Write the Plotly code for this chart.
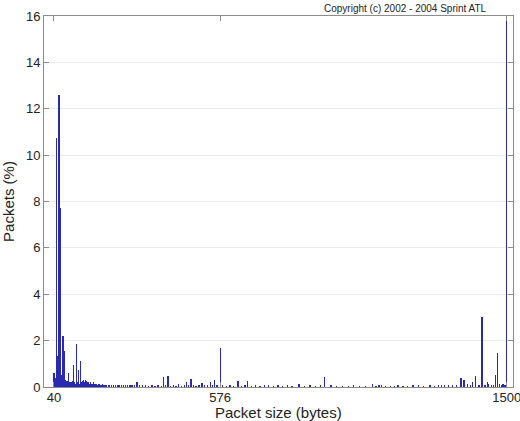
import plotly.graph_objects as go

packet_sizes = [
    40, 42, 44, 46, 48, 50, 51, 53, 54, 56, 58, 60, 62, 64, 66, 69, 72, 74, 76, 78,
    80, 82, 85, 88, 90, 92, 95, 98, 100, 104, 107, 110, 112, 115, 117, 120, 123, 126, 129, 132,
    135, 138, 141, 144, 147, 150, 153, 156, 159, 162, 165, 168, 171, 174, 177, 180, 184, 188, 192, 196,
    200, 205, 210, 215, 220, 226, 232, 238, 244, 250, 257, 264, 271, 278, 285, 292, 300, 308, 316, 326,
    336, 346, 356, 366, 376, 386, 394, 400, 408, 416, 426, 434, 442, 452, 460, 467, 474, 482, 490, 498,
    508, 517, 526, 536, 544, 552, 557, 566, 576, 584, 596, 608, 620, 633, 645, 656, 664, 676, 690, 704,
    718, 732, 748, 762, 776, 792, 808, 830, 848, 866, 884, 900, 912, 933, 950, 970, 990, 1005, 1025, 1045,
    1066, 1078, 1088, 1097, 1110, 1125, 1138, 1149, 1165, 1180, 1198, 1216, 1232, 1252, 1266, 1280, 1290, 1300, 1312, 1326,
    1338, 1352, 1362, 1374, 1382, 1389, 1400, 1410, 1420, 1430, 1437, 1442, 1450, 1457, 1463, 1470, 1477, 1482, 1488, 1494,
    1500,
]

packets_pct = [
    0.6, 0.3, 0.35, 0.4, 10.75, 0.45, 1.35, 0.5, 0.4, 12.6, 0.45, 7.7, 2.4, 0.5, 0.35, 2.2, 1.55, 0.3, 0.25, 0.3,
    0.2, 0.25, 0.2, 0.6, 0.2, 0.15, 0.2, 0.15, 0.25, 0.95, 0.2, 0.15, 1.85, 0.2, 0.15, 0.75, 0.15, 1.1, 0.2, 0.25,
    0.3, 0.2, 0.3, 0.25, 0.15, 0.2, 0.15, 0.1, 0.2, 0.15, 0.12, 0.2, 0.15, 0.12, 0.15, 0.1, 0.15, 0.12, 0.1, 0.12,
    0.08, 0.1, 0.08, 0.1, 0.08, 0.07, 0.08, 0.06, 0.07, 0.06, 0.06, 0.05, 0.06, 0.05, 0.05, 0.05, 0.06, 0.2, 0.05, 0.05,
    0.05, 0.04, 0.05, 0.04, 0.05, 0.04, 0.42, 0.05, 0.47, 0.04, 0.05, 0.04, 0.15, 0.04, 0.05, 0.2, 0.05, 0.33, 0.05, 0.04,
    0.05, 0.19, 0.05, 0.05, 0.23, 0.08, 0.3, 0.05, 1.68, 0.05, 0.04, 0.05, 0.04, 0.26, 0.04, 0.05, 0.27, 0.04, 0.05, 0.04,
    0.05, 0.08, 0.04, 0.05, 0.04, 0.08, 0.04, 0.15, 0.04, 0.05, 0.04, 0.05, 0.42, 0.05, 0.04, 0.04, 0.04, 0.06, 0.04, 0.04,
    0.12, 0.04, 0.1, 0.1, 0.04, 0.04, 0.04, 0.1, 0.04, 0.04, 0.06, 0.08, 0.04, 0.07, 0.04, 0.05, 0.06, 0.07, 0.06, 0.08,
    0.05, 0.37, 0.3, 0.12, 0.05, 0.2, 0.47, 0.06, 3.0, 0.06, 0.23, 0.12, 0.06, 0.08, 0.5, 1.45, 0.12, 0.08, 0.12, 0.08,
    16.0,
]

x_tick_values = [40, 576, 1500]
y_tick_values = [0, 2, 4, 6, 8, 10, 12, 14, 16]

fig = go.Figure()
fig.add_trace(go.Bar(
    x=packet_sizes,
    y=packets_pct,
    width=1.0,
    marker=dict(color="#2a2ab0", line=dict(width=0)),
    showlegend=False,
))

axis_color = "#8c8c8c"
font_family = "Liberation Sans, Arial, Helvetica, sans-serif"

fig.update_layout(
    width=520,
    height=421,
    margin=dict(l=44, r=7, t=16, b=34),
    paper_bgcolor="white",
    plot_bgcolor="white",
    font=dict(family=font_family, size=13, color="#222"),
    bargap=0,
    xaxis=dict(
        range=[8, 1520],
        tickvals=x_tick_values,
        ticktext=[str(v) for v in x_tick_values],
        ticks="inside",
        ticklen=5,
        tickcolor=axis_color,
        showline=True,
        linecolor=axis_color,
        linewidth=1,
        mirror="ticks",
        showgrid=False,
        zeroline=False,
        automargin=False,
        ticklabeloverflow="allow",
        ticklabelstandoff=-2,
        tickfont=dict(size=13),
    ),
    yaxis=dict(
        range=[0, 16],
        tickvals=y_tick_values,
        ticks="inside",
        ticklen=5,
        tickcolor=axis_color,
        showline=True,
        linecolor=axis_color,
        linewidth=1,
        mirror="ticks",
        showgrid=True,
        gridcolor="#ebebeb",
        zeroline=False,
        automargin=False,
        title=dict(text="Packets (%)", font=dict(size=15), standoff=8),
        tickfont=dict(size=13),
    ),
    annotations=[
        dict(
            text="Copyright (c) 2002 - 2004 Sprint ATL",
            xref="paper", yref="paper",
            x=0.771, y=1.0,
            xanchor="center", yanchor="bottom",
            showarrow=False,
            font=dict(size=10, color="#222"),
        ),
        dict(
            text="Packet size (bytes)",
            xref="paper", yref="paper",
            x=0.5, y=0.0,
            xanchor="center", yanchor="bottom",
            yshift=-35,
            borderpad=0,
            showarrow=False,
            font=dict(size=15, color="#222"),
        ),
    ],
)

fig.write_html(
    "out.html",
    config={"displayModeBar": False},
    post_script="document.body.style.margin='0px';document.body.style.padding='0px';",
)
